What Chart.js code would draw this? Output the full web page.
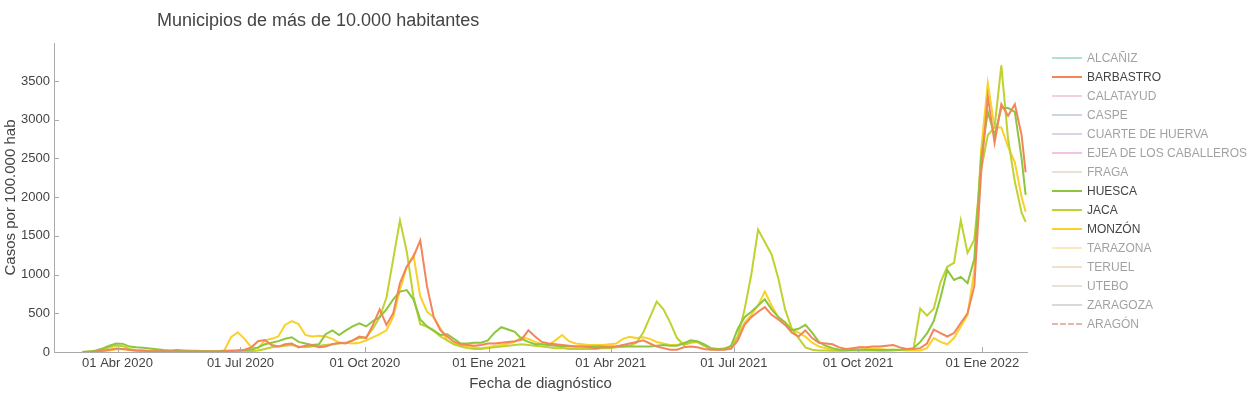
<!DOCTYPE html>
<html lang="es">
<head>
<meta charset="UTF-8">
<title>Municipios de más de 10.000 habitantes</title>
<script src="https://cdn.jsdelivr.net/npm/chart.js"></script>
<style>
  body { margin: 0; background: #fff; font-family: "Liberation Sans", Arial, sans-serif; color: #444; }
  #wrap { position: relative; width: 1254px; height: 398px; }
  #titulo { position: absolute; left: 157px; top: 10px; font-size: 18px; color: #444; white-space: nowrap; }
  #leyenda { position: absolute; left: 1052px; top: 48px; font-size: 12px; }
  .item { height: 19px; display: flex; align-items: center; white-space: nowrap; }
  .item .linea { width: 30px; height: 0; border-top: 2px solid; margin-right: 5px; }
  .item.oculto { opacity: 0.5; }
</style>
</head>
<body>
<div id="wrap">
  <canvas id="grafico" width="1254" height="398"></canvas>
  <div id="titulo">Municipios de más de 10.000 habitantes</div>
  <div id="leyenda"></div>
</div>
<script>
// dias desde el 1 de marzo de 2020, un dato cada 5 dias
const inicio = Date.parse('2020-03-01');
const dias = [...Array(140)].map((_, i) => 5 * (i + 1)).concat([703]);

const barbastro = [0,0,5,15,30,45,40,25,15,15,10,10,10,10,5,5,5,5,5,5,5,10,15,20,
  30,60,140,155,90,70,100,110,60,80,90,60,70,100,120,110,150,200,180,350,550,350,500,890,1100,1230,1440,850,450,280,200,130,100,
  90,80,90,110,110,120,130,140,160,280,200,130,110,100,90,80,70,70,60,50,60,60,70,
  90,110,130,150,110,70,50,30,30,60,70,60,40,30,30,30,40,150,350,450,520,580,480,420,350,250,200,280,180,120,110,100,60,40,50,60,
  60,70,70,80,90,60,40,40,
  50,110,290,245,200,245,375,500,850,2300,3300,2700,3200,3050,3200,2800,2320];

const huesca = [0,5,20,45,80,110,105,70,60,55,45,35,25,20,25,20,15,15,10,10,10,15,15,20,
  25,30,60,100,120,140,170,190,130,110,90,100,230,280,220,280,330,370,330,400,450,550,680,780,800,680,420,330,280,220,230,170,110,
  110,120,120,150,250,320,290,260,170,130,100,100,90,80,70,70,70,70,70,70,70,70,70,
  70,70,70,70,70,80,90,80,80,110,150,140,100,50,40,40,80,300,450,520,600,680,550,450,380,280,300,350,250,130,80,50,30,25,25,30,
  30,25,25,25,30,30,40,50,
  130,240,400,700,1060,930,970,890,1200,2500,3100,2800,3150,3150,3100,2500,2030];

const jaca = [0,5,10,30,60,85,75,40,25,20,15,15,10,10,10,10,10,5,5,5,5,5,5,10,
  5,10,20,40,60,70,80,90,70,60,70,80,90,100,110,120,150,180,190,300,450,700,1200,1700,1300,710,360,330,270,200,150,100,70,
  50,40,40,50,60,70,80,90,100,90,80,70,60,50,50,40,40,40,40,40,50,50,60,
  70,80,120,250,450,650,550,380,180,90,120,130,80,40,30,40,60,200,550,1000,1580,1420,1260,950,550,300,180,60,30,20,20,15,15,15,20,20,
  20,20,15,15,20,25,30,40,
  560,470,560,900,1100,1150,1700,1280,1450,2350,2800,2900,3700,2750,2200,1800,1680];

const monzon = [0,0,5,10,20,35,40,30,20,15,10,10,10,10,10,10,10,5,5,5,10,20,190,255,
  170,60,50,150,170,200,350,400,360,220,200,210,200,170,120,120,110,120,150,190,230,280,450,800,1100,1250,720,520,450,300,150,100,80,
  70,60,50,60,80,90,110,130,190,170,130,100,90,150,220,140,110,100,90,90,90,100,110,
  170,195,180,190,170,130,110,90,90,120,130,130,80,50,40,50,70,200,380,480,600,780,600,450,380,300,250,200,120,70,50,30,20,20,40,60,
  50,40,40,30,30,25,20,20,
  20,50,180,130,100,180,330,480,1050,2600,3470,2900,2900,2650,2450,2000,1810];

const municipios = ['ALCAÑIZ','BARBASTRO','CALATAYUD','CASPE','CUARTE DE HUERVA','EJEA DE LOS CABALLEROS','FRAGA',
  'HUESCA','JACA','MONZÓN','TARAZONA','TERUEL','UTEBO','ZARAGOZA','ARAGÓN'];
const colores = ['#66c2a5','#f4845a','#e6a3b8','#9eaac8','#bba6d2','#e78ac3','#cfc6a8',
  '#8cc63e','#bfd22f','#f9d12a','#f5d57a','#e5c494','#d2c6b4','#b3b3b3','#c4705c'];
const series = { 'BARBASTRO': barbastro, 'HUESCA': huesca, 'JACA': jaca, 'MONZÓN': monzon };

const ticksFechas = ['2020-04-01','2020-07-01','2020-10-01','2021-01-01','2021-04-01','2021-07-01','2021-10-01','2022-01-01'];
const ticksTextos = ['01 Abr 2020','01 Jul 2020','01 Oct 2020','01 Ene 2021','01 Abr 2021','01 Jul 2021','01 Oct 2021','01 Ene 2022'];
const ticksDias = ticksFechas.map(f => (Date.parse(f) - inicio) / 86400000);
const ticksY = [0, 500, 1000, 1500, 2000, 2500, 3000, 3500];

const datasets = municipios.map((m, i) => {
  const valores = series[m];
  return {
    label: m,
    data: valores ? valores.map((v, k) => ({ x: dias[k], y: v })) : [],
    hidden: !valores,
    borderColor: colores[i],
    borderWidth: 2,
    borderDash: m === 'ARAGÓN' ? [6, 4] : [],
    pointRadius: 0,
    tension: 0,
    fill: false
  };
});

// marcas de los ejes hacia dentro
const marcasDentro = {
  id: 'marcasDentro',
  afterDraw(chart) {
    const { ctx, scales: { x, y }, chartArea } = chart;
    ctx.save();
    ctx.strokeStyle = '#aaa';
    ctx.lineWidth = 1;
    ticksDias.forEach(d => {
      const px = Math.round(x.getPixelForValue(d)) + 0.5;
      ctx.beginPath(); ctx.moveTo(px, chartArea.bottom); ctx.lineTo(px, chartArea.bottom - 5); ctx.stroke();
    });
    ticksY.forEach(v => {
      const py = Math.round(y.getPixelForValue(v)) + 0.5;
      ctx.beginPath(); ctx.moveTo(chartArea.left, py); ctx.lineTo(chartArea.left + 5, py); ctx.stroke();
    });
    ctx.restore();
  }
};

const fuente = '"Liberation Sans", Arial, sans-serif';
const chart = new Chart(document.getElementById('grafico'), {
  type: 'line',
  data: { datasets },
  options: {
    responsive: false,
    animation: false,
    layout: { padding: { left: 0, right: 227, top: 43, bottom: 0 } },
    plugins: { legend: { display: false }, tooltip: { enabled: false } },
    scales: {
      x: {
        type: 'linear', min: -16, max: 704,
        grid: { display: false, drawTicks: false },
        border: { display: true, color: '#aaa' },
        afterBuildTicks: s => { s.ticks = ticksDias.map(v => ({ value: v })); },
        afterFit: s => { s.height = 46; },
        ticks: {
          padding: 4, color: '#444', font: { family: fuente, size: 13 }, maxRotation: 0, autoSkip: false,
          callback: v => ticksTextos[ticksDias.indexOf(v)]
        },
        title: { display: true, text: 'Fecha de diagnóstico', color: '#444', font: { family: fuente, size: 15 }, padding: { top: 0, bottom: 5 } }
      },
      y: {
        min: 0, max: 3990,
        grid: { display: false, drawTicks: false },
        border: { display: true, color: '#aaa' },
        afterBuildTicks: s => { s.ticks = ticksY.map(v => ({ value: v })); },
        afterFit: s => { s.width = 54; },
        ticks: { padding: 4, color: '#444', font: { family: fuente, size: 13 }, callback: v => String(v) },
        title: { display: true, text: 'Casos por 100.000 hab', color: '#444', font: { family: fuente, size: 15 }, padding: { top: 2, bottom: 0 } }
      }
    }
  },
  plugins: [marcasDentro]
});

// leyenda como en el original, las series ocultas en gris
const leyenda = document.getElementById('leyenda');
chart.data.datasets.forEach(ds => {
  const item = document.createElement('div');
  item.className = 'item' + (ds.hidden ? ' oculto' : '');
  const linea = document.createElement('span');
  linea.className = 'linea';
  linea.style.borderTopColor = ds.borderColor;
  if (ds.borderDash.length) linea.style.borderTopStyle = 'dashed';
  const texto = document.createElement('span');
  texto.textContent = ds.label;
  item.appendChild(linea);
  item.appendChild(texto);
  leyenda.appendChild(item);
});
</script>
</body>
</html>
